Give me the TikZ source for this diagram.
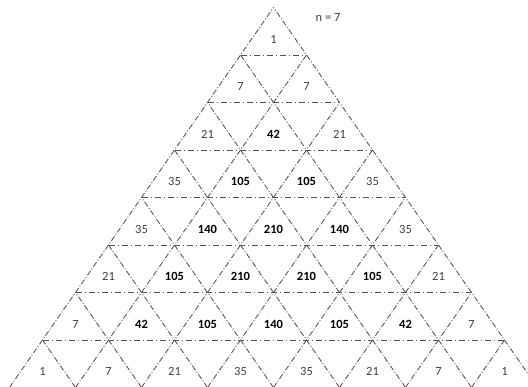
\documentclass[tikz,border=0pt]{standalone}
\usepackage{fontspec}
\setmainfont{Carlito}
\begin{document}
\begin{tikzpicture}[x=1pt,y=-1pt,
 diag/.style={draw=black!68, line width=0.85pt, dash pattern=on 5.5pt off 2pt on 1pt off 2pt},
 horiz/.style={draw=black!68, line width=0.85pt, dash pattern=on 6.5pt off 2.5pt on 1.5pt off 2.5pt},
 num/.style={font=\fontsize{12.5}{14}\selectfont, text=black!75, inner sep=0pt}]
\useasboundingbox (0,0) rectangle (528,387);
\clip (0,0) rectangle (528,387);
\foreach \k in {0,...,8}{
  \foreach \i in {0,...,\k}{
    \coordinate (p-\k-\i) at ({273.5+33*(2*\i-\k)},{7.5+47.5*\k});
  }
}
\foreach \i in {0,...,7} \draw[diag] (p-8-\i) -- (p-\i-\i);
\foreach \j in {0,...,7} {
  \pgfmathtruncatemacro\b{8-\j}
  \draw[diag] (p-8-\b) -- (p-\j-0);
}
\foreach \k in {1,...,7} \draw[horiz] (p-\k-0) -- (p-\k-\k);
\foreach \k/\vals in {0/{1},1/{7,7},2/{21,42,21},3/{35,105,105,35},4/{35,140,210,140,35},5/{21,105,210,210,105,21},6/{7,42,105,140,105,42,7},7/{1,7,21,35,35,21,7,1}}{
  \foreach \v [count=\n from 0] in \vals {
    \pgfmathtruncatemacro\isb{\v>35 ? 1 : 0}
    \node[num] (t-\k-\n) at ([yshift=-31.7pt]p-\k-\n) {\ifnum\isb=1 \bfseries\color{black}\fi\v};
  }
}
\node[num] (nlabel) at (328,17) {n = 7};
\end{tikzpicture}
\end{document}
